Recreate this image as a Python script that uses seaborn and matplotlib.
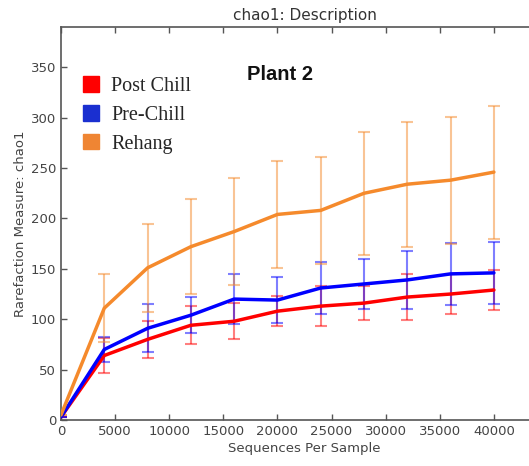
import numpy as np
import pandas as pd
import matplotlib
matplotlib.use("Agg")
import matplotlib.pyplot as plt
import seaborn as sns
from matplotlib.patches import Patch

sns.set_style("ticks")
plt.rcParams['font.family'] = ['DejaVu Sans']

seqs = [0, 4000, 8000, 12000, 16000, 20000, 24000, 28000, 32000, 36000, 40000]
post_chill = [3, 64, 80, 94, 98, 108, 113, 116, 122, 125, 129]
post_chill_err = [0, 17, 18, 19, 18, 15, 20, 17, 23, 20, 20]
pre_chill = [3, 70, 91, 104, 120, 119, 131, 135, 139, 145, 146]
pre_chill_err = [0, 12, 24, 18, 25, 23, 26, 25, 29, 31, 31]
rehang = [5, 111, 151, 172, 187, 204, 208, 225, 234, 238, 246]
rehang_err = [0, 34, 44, 47, 53, 53, 53, 61, 62, 63, 66]

groups = ["Post Chill", "Pre-Chill", "Rehang"]
line_colors = {"Post Chill": "#ff0000", "Pre-Chill": "#0000ff", "Rehang": "#f58a2c"}
legend_colors = {"Post Chill": "#ff0000", "Pre-Chill": "#1a2fd0", "Rehang": "#ef8533"}

df = pd.DataFrame({
    "Sequences Per Sample": seqs * 3,
    "chao1": post_chill + pre_chill + rehang,
    "err": post_chill_err + pre_chill_err + rehang_err,
    "Group": sum([[g] * len(seqs) for g in groups], []),
})

fig = plt.figure(figsize=(5.29, 4.66), dpi=100)
ax = fig.add_axes([61 / 529, 46 / 466, (548 - 61) / 529, (420 - 27) / 466])

for g in groups:
    sub = df[df["Group"] == g]
    ax.errorbar(sub["Sequences Per Sample"], sub["chao1"], yerr=sub["err"],
                fmt="none", ecolor=line_colors[g], alpha=0.5, elinewidth=1.5,
                capsize=4, capthick=1.5, zorder=2)

sns.lineplot(data=df, x="Sequences Per Sample", y="chao1", hue="Group",
             palette=line_colors, linewidth=2.5, legend=False, ax=ax, zorder=3)

ax.set_xlim(0, 45000)
ax.set_ylim(0, 390)
ax.set_xticks([0, 5000, 10000, 15000, 20000, 25000, 30000, 35000, 40000])
ax.set_yticks([0, 50, 100, 150, 200, 250, 300, 350])
ax.tick_params(direction="in", length=4, width=1, colors="#555555",
               labelcolor="#444444", labelsize=9.5, top=True, right=True)
for s in ax.spines.values():
    s.set_color("#555555")
    s.set_linewidth(1.2)

ax.set_xlabel("Sequences Per Sample", fontsize=9.5, color="#444444", labelpad=3)
ax.set_ylabel("Rarefaction Measure: chao1", fontsize=9.5, color="#444444", labelpad=3)
ax.set_title("chao1: Description", fontsize=11, color="#333333", pad=5)

handles = [Patch(facecolor=legend_colors[g], edgecolor=legend_colors[g]) for g in groups]
leg = ax.legend(handles, groups, loc="upper left", bbox_to_anchor=(0.02, 0.905),
                frameon=False, prop={"family": "Liberation Serif", "size": 14.5},
                handlelength=0.8, handleheight=0.8, handletextpad=0.6,
                labelspacing=0.45, borderaxespad=0.2)

fig.text(280 / 529, 1 - 75 / 466, "Plant 2", ha="center", va="center",
         fontsize=14.5, fontweight="bold", family="Liberation Sans", color="#111111")

fig.savefig("out.png", dpi=100)
